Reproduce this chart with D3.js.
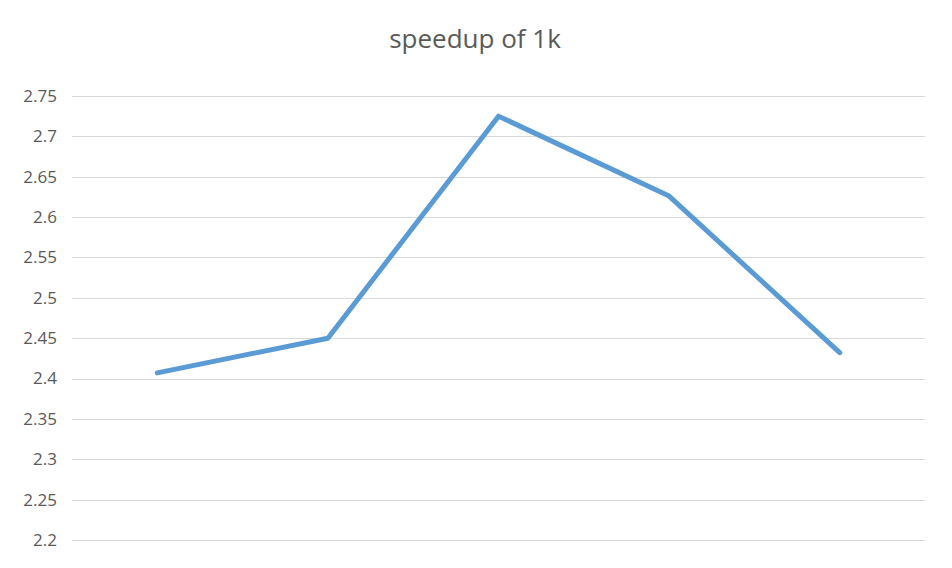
<!DOCTYPE html>
<html>
<head>
<meta charset="utf-8">
<script src="https://cdn.jsdelivr.net/npm/d3@7"></script>
<style>
  body { margin: 0; background: #fff; }
  text { font-family: "Open Sans", "Liberation Sans", sans-serif; fill: #595959; }
</style>
</head>
<body>
<div id="chart"></div>
<script>
var categories = ["1", "2", "3", "4", "5"];
var speedup = [2.407, 2.450, 2.725, 2.626, 2.432];
var yTicks = [2.2, 2.25, 2.3, 2.35, 2.4, 2.45, 2.5, 2.55, 2.6, 2.65, 2.7, 2.75];

(function() {
  var width = 952, height = 568;
  var plotLeft = 72, plotRight = 925, plotTop = 96, plotBottom = 540;

  var svg = d3.select("#chart").append("svg")
    .attr("width", width)
    .attr("height", height);

  var x = d3.scaleBand().domain(categories).range([plotLeft, plotRight]);
  var y = d3.scaleLinear().domain([2.2, 2.75]).range([plotBottom, plotTop]);

  // gridlines
  svg.append("g").selectAll("line")
    .data(yTicks)
    .enter().append("line")
    .attr("x1", plotLeft)
    .attr("x2", plotRight)
    .attr("y1", function(d) { return Math.round(y(d)) + 0.5; })
    .attr("y2", function(d) { return Math.round(y(d)) + 0.5; })
    .style("stroke", "#d9d9d9")
    .style("stroke-width", 1);

  // y labels
  svg.append("g").selectAll("text")
    .data(yTicks)
    .enter().append("text")
    .attr("x", 57)
    .attr("y", function(d) { return y(d); })
    .attr("dy", "0.35em")
    .attr("text-anchor", "end")
    .style("font-size", "17px")
    .text(function(d) { return String(+d.toFixed(2)); });

  // line
  var line = d3.line()
    .x(function(d, i) { return x(categories[i]) + x.bandwidth() / 2; })
    .y(function(d) { return y(d); });

  svg.append("path")
    .datum(speedup)
    .attr("d", line)
    .style("fill", "none")
    .style("stroke", "#5b9bd5")
    .style("stroke-width", 5)
    .style("stroke-linejoin", "round")
    .style("stroke-linecap", "round");

  // title
  svg.append("text")
    .attr("x", 475)
    .attr("y", 48)
    .attr("text-anchor", "middle")
    .style("font-size", "26px")
    .text("speedup of 1k");
})();
</script>
</body>
</html>
